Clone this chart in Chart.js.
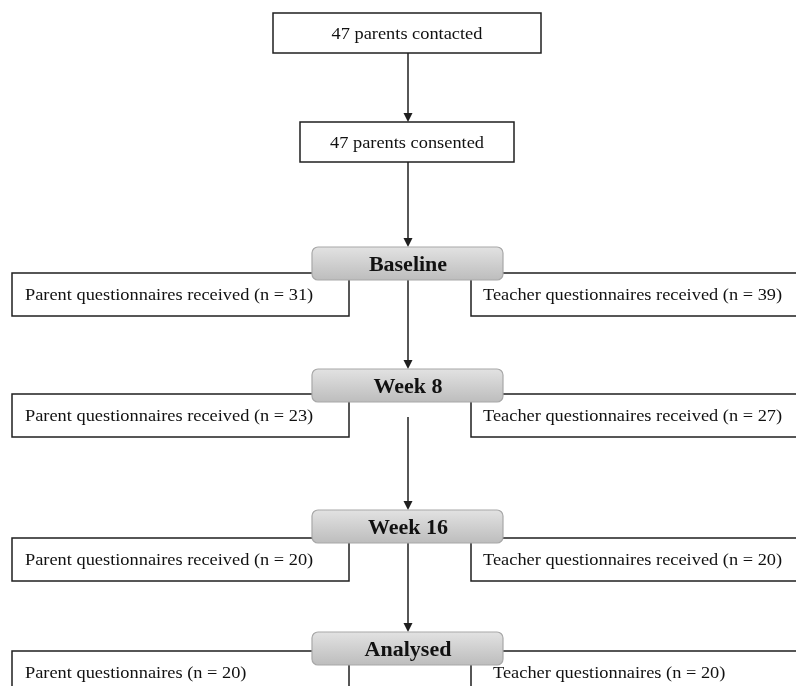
<!DOCTYPE html>
<html>
<head>
<meta charset="utf-8">
<script src="https://cdn.jsdelivr.net/npm/chart.js@4.4.1/dist/chart.umd.min.js"></script>
<style>
  html, body { margin: 0; padding: 0; background: #fff; }
  #wrap { width: 796px; height: 686px; }
</style>
</head>
<body>
<div id="wrap"><canvas id="flow" width="796" height="686"></canvas></div>
<script>
// flow data
const parentsContacted = 47;
const parentsConsented = 47;
const stages = ['Baseline', 'Week 8', 'Week 16', 'Analysed'];
const parentLabels = ['Parent questionnaires received', 'Parent questionnaires received', 'Parent questionnaires received', 'Parent questionnaires'];
const teacherLabels = ['Teacher questionnaires received', 'Teacher questionnaires received', 'Teacher questionnaires received', 'Teacher questionnaires'];
const parentCounts = [31, 23, 20, 20];
const teacherCounts = [39, 27, 20, 20];

// layout (in chart units, 1 unit = 1px)
const stageTop = [247, 369, 510, 632];
const sideTop = [273, 394, 538, 651];
const arrowFrom = [162, 280, 417, 543];
const teacherTextX = [483, 483, 483, 493];

const LINE = '#1f1f1f';
const FONT = '"Liberation Serif", "Times New Roman", serif';

const flowPlugin = {
  id: 'flow',
  afterDraw(chart) {
    const ctx = chart.ctx;
    const X = v => chart.scales.x.getPixelForValue(v);
    const Y = v => chart.scales.y.getPixelForValue(v);

    function box(x1, y1, x2, y2) {
      ctx.save();
      ctx.fillStyle = '#fff';
      ctx.strokeStyle = LINE;
      ctx.lineWidth = 1.5;
      ctx.fillRect(X(x1), Y(y1), X(x2) - X(x1), Y(y2) - Y(y1));
      ctx.strokeRect(X(x1), Y(y1), X(x2) - X(x1), Y(y2) - Y(y1));
      ctx.restore();
    }

    // the source figure is a little stretched sideways
    function text(str, x, y, align, font, stretch) {
      ctx.save();
      ctx.fillStyle = '#111';
      ctx.font = font;
      ctx.textAlign = align;
      ctx.textBaseline = 'middle';
      ctx.translate(X(x), Y(y));
      ctx.scale(stretch, 1);
      ctx.fillText(str, 0, 0);
      ctx.restore();
    }

    function arrow(x, y1, y2) {
      ctx.save();
      ctx.strokeStyle = LINE;
      ctx.fillStyle = LINE;
      ctx.lineWidth = 1.5;
      ctx.beginPath();
      ctx.moveTo(X(x), Y(y1));
      ctx.lineTo(X(x), Y(y2) - 6);
      ctx.stroke();
      ctx.beginPath();
      ctx.moveTo(X(x) - 4.5, Y(y2) - 9);
      ctx.lineTo(X(x) + 4.5, Y(y2) - 9);
      ctx.lineTo(X(x), Y(y2));
      ctx.closePath();
      ctx.fill();
      ctx.restore();
    }

    function stageBox(label, top) {
      const x1 = X(312), x2 = X(503), y1 = Y(top), y2 = Y(top + 33);
      ctx.save();
      const g = ctx.createLinearGradient(0, y1, 0, y2);
      g.addColorStop(0, '#e2e2e2');
      g.addColorStop(1, '#bdbdbd');
      ctx.fillStyle = g;
      ctx.strokeStyle = '#a8a8a8';
      ctx.lineWidth = 1.2;
      ctx.beginPath();
      ctx.roundRect(x1, y1, x2 - x1, y2 - y1, 6);
      ctx.fill();
      ctx.stroke();
      ctx.restore();
      text(label, 408, top + 18.5, 'center', 'bold 20px ' + FONT, 1.1);
    }

    const normal = '17px ' + FONT;
    const st = 1.08;

    // top boxes
    box(273, 13, 541, 53);
    text(parentsContacted + ' parents contacted', 407, 35, 'center', normal, st);
    arrow(408, 53, 122);
    box(300, 122, 514, 162);
    text(parentsConsented + ' parents consented', 407, 144, 'center', normal, st);

    // side boxes
    stages.forEach((s, i) => {
      box(12, sideTop[i], 349, sideTop[i] + 43);
      box(471, sideTop[i], 810, sideTop[i] + 43);
      const ty = sideTop[i] + 23;
      text(parentLabels[i] + ' (n = ' + parentCounts[i] + ')', 25, ty, 'left', normal, st);
      text(teacherLabels[i] + ' (n = ' + teacherCounts[i] + ')', teacherTextX[i], ty, 'left', normal, st);
    });

    // vertical connectors
    stages.forEach((s, i) => arrow(408, arrowFrom[i], stageTop[i]));

    // stage boxes on top
    stages.forEach((s, i) => stageBox(s, stageTop[i]));
  }
};

new Chart(document.getElementById('flow').getContext('2d'), {
  type: 'scatter',
  data: { datasets: [{ data: [] }] },
  options: {
    responsive: false,
    animation: false,
    layout: { padding: 0 },
    scales: {
      x: { type: 'linear', min: 0, max: 796, display: false },
      y: { type: 'linear', min: 0, max: 686, reverse: true, display: false }
    },
    plugins: {
      legend: { display: false },
      tooltip: { enabled: false }
    }
  },
  plugins: [flowPlugin]
});
</script>
</body>
</html>
